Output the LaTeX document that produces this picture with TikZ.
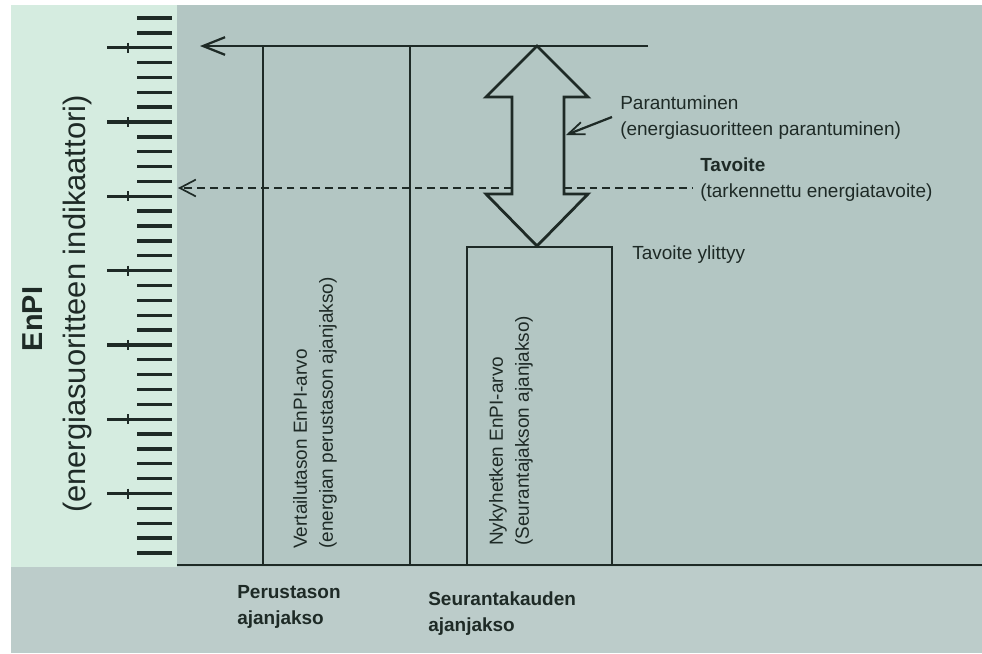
\documentclass[tikz,border=0pt]{standalone}
\usepackage{fontspec}
\setmainfont{Liberation Sans}
\usetikzlibrary{arrows.meta}

\definecolor{panelgreen}{HTML}{D5ECE0}
\definecolor{panelgrey}{HTML}{B3C6C3}
\definecolor{bandgrey}{HTML}{BCCCCA}
\definecolor{inkdark}{HTML}{1E2A26}

\tikzset{
  lbl/.style={font=\fontsize{13.5}{18.5}\selectfont, text=inkdark, inner sep=0pt, align=left},
  bigbarb/.style={-{Straight Barb[length=5.5mm,width=4.4mm,line width=1.6pt]}},
  smallbarb/.style={-{Straight Barb[length=4mm,width=4.2mm,line width=1.2pt]}},
  pointbarb/.style={-{Straight Barb[length=4mm,width=3.2mm,line width=1.3pt]}}
}

\begin{document}
\begin{tikzpicture}[x=0.025cm, y=-0.025cm]
        \useasboundingbox (0,0) rectangle (982,653);

        % background panels
        \fill[white] (0,0) rectangle (982,653);
        \fill[panelgreen] (11,5) rectangle (177,567);
        \fill[panelgrey] (177,5) rectangle (982,567);
        \fill[bandgrey] (11,567) rectangle (982,653);

        % scale ticks
        \begin{scope}[line width=2.4pt, draw=inkdark]
        \foreach \k in {0,...,36} {
          \pgfmathsetmacro{\ty}{18+14.86*\k}
          \draw (137,\ty) -- (172,\ty);
        }
        \foreach \k in {2,7,...,32} {
          \pgfmathsetmacro{\ty}{18+14.86*\k}
          \draw (107,\ty) -- (172,\ty);
          \draw[line width=1.2pt] (128,\ty-5) -- (128,\ty+5);
        }
        \end{scope}

        \coordinate (topend) at (648,46);
        \coordinate (toptip) at (200,46);
        \coordinate (basetop) at (263,46);
        \coordinate (basebot) at (263,565);
        \coordinate (followtop) at (410,46);
        \coordinate (followbot) at (410,565);
        \coordinate (axisl) at (177,565);
        \coordinate (axisr) at (982,565);
        \coordinate (nowtl) at (467,247);
        \coordinate (nowbr) at (612,565);
        \coordinate (goall) at (178,188);
        \coordinate (goalr) at (693,188);
        \coordinate (shaftl) at (512,188);
        \coordinate (shaftr) at (564,188);

        \begin{scope}[line width=2pt, draw=inkdark]
        \draw (axisl) -- (axisr);
        \draw (basetop) -- (basebot);
        \draw (followtop) -- (followbot);
        \draw (nowtl) rectangle (nowbr);
        \draw[bigbarb] (topend) -- (toptip);
        % double block arrow
        \draw[line join=miter] (537,46) -- (588,97) -- (564,97) -- (564,194)
              -- (588,194) -- (537,246) -- (486,194) -- (512,194) -- (512,97)
              -- (486,97) -- cycle;
        \end{scope}

        \begin{scope}[line width=1.5pt, draw=inkdark, dash pattern=on 5.5pt off 3.6pt]
        \draw[smallbarb] (shaftl) -- (goall);
        \draw (shaftr) -- (goalr);
        \end{scope}

        % texts
        \node[lbl, anchor=west] (gain) at (620,118) {Parantuminen\\(energiasuoritteen parantuminen)};
        \node[lbl, anchor=west] (goal) at (700,180) {\textbf{Tavoite}\\(tarkennettu energiatavoite)};
        \node[lbl, anchor=west] (over) at (632,255) {Tavoite ylittyy};
        \node[lbl, anchor=west, font=\fontsize{13.5}{18.5}\selectfont\bfseries] (baseper) at (237,607) {Perustason\\ajanjakso};
        \node[lbl, anchor=west, font=\fontsize{13.5}{18.5}\selectfont\bfseries] (followper) at (428,614) {Seurantakauden\\ajanjakso};
        \node[lbl, rotate=90, anchor=west] (baseval) at (315,549) {Vertailutason EnPI-arvo\\(energian perustason ajanjakso)};
        \node[lbl, rotate=90, anchor=west] (nowval) at (511,546) {Nykyhetken EnPI-arvo\\(Seurantajakson ajanjakso)};
        \node[lbl, rotate=90, font=\fontsize{20.5}{24}\selectfont\bfseries] (enpi) at (33,319) {EnPI};
        \node[lbl, rotate=90, font=\fontsize{22}{26}\selectfont] (enpidesc) at (78,304) {(energiasuoritteen indikaattori)};

        \draw[pointbarb, line width=1.6pt, draw=inkdark] (gain.west) ++(-8,-1) -- (566,135);

\end{tikzpicture}
\end{document}
